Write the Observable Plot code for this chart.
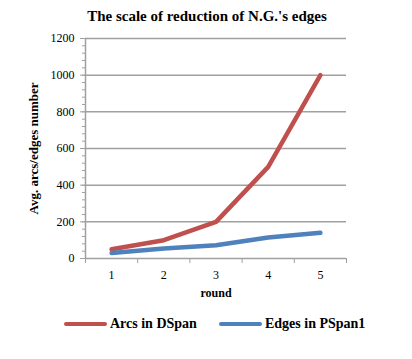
<!DOCTYPE html>
<html>
<head>
<meta charset="utf-8">
<script src="https://cdn.jsdelivr.net/npm/d3@7"></script>
<script src="https://cdn.jsdelivr.net/npm/@observablehq/plot@0.6"></script>
<style>
  body { margin: 0; background: #fff; font-family: "Liberation Serif", "Times New Roman", serif; }
  #wrap { width: 412px; height: 359px; position: relative; overflow: hidden; }
  #title { height: 32px; line-height: 32px; font-size: 15px; font-weight: bold; text-align: center; color: #000; padding-left: 2px; }
  #legend { position: relative; height: 47px; }
  .item { position: absolute; top: 4px; display: flex; align-items: center; font-size: 14px; font-weight: bold; color: #000; }
  .swatch { width: 43px; height: 4.5px; border-radius: 3px; margin-right: 3px; }
  #chart svg text { font-family: "Liberation Serif", "Times New Roman", serif !important; }
</style>
</head>
<body>
<div id="wrap">
  <div id="title">The scale of reduction of N.G.'s edges</div>
  <div id="chart"></div>
  <div id="legend"></div>
</div>
<script>
const rounds = [1, 2, 3, 4, 5];
const arcsDSpan = [50, 100, 200, 500, 1000];
const edgesPSpan1 = [30, 55, 72, 115, 140];
const seriesNames = ["Arcs in DSpan", "Edges in PSpan1"];
const seriesColors = ["#c0504d", "#4f81bd"];
const yTicks = [0, 200, 400, 600, 800, 1000, 1200];
const xLabel = "round";
const yLabel = "Avg. arcs/edges number";

const data = [];
rounds.forEach((r, i) => {
  data.push({round: r, value: arcsDSpan[i], series: seriesNames[0]});
  data.push({round: r, value: edgesPSpan1[i], series: seriesNames[1]});
});
const boundaries = [0.5, ...rounds.map(r => r + 0.5)];
const minor = d3.range(0, 1201, 40);
const serif = "Liberation Serif, Times New Roman, serif";

const chart = Plot.plot({
  width: 412,
  height: 280,
  marginTop: 6,
  marginBottom: 54,
  marginLeft: 85,
  marginRight: 66,
  style: "font-family: 'Liberation Serif', 'Times New Roman', serif; font-size: 12px; color: #000; background: #fff; overflow: visible;",
  x: {domain: [0.5, 5.5], axis: null},
  y: {domain: [0, 1200], axis: null},
  color: {domain: seriesNames, range: seriesColors},
  marks: [
    Plot.gridY(yTicks.filter(d => d > 0), {stroke: "#a0a0a0", strokeOpacity: 1, strokeWidth: 1.5}),
    Plot.ruleY([0], {stroke: "#a0a0a0", strokeWidth: 1.5}),
    Plot.ruleX([0.5], {stroke: "#a0a0a0", strokeWidth: 1.5}),
    Plot.axisY({ticks: minor, tickSize: 3, tickFormat: () => "", stroke: "#a0a0a0", label: null}),
    Plot.axisY({ticks: yTicks, tickSize: 5, tickPadding: 6, stroke: "#a0a0a0", label: null, fontSize: 12, fontFamily: serif, tickFormat: d => String(d)}),
    Plot.axisX({ticks: boundaries, tickSize: 5, tickFormat: () => "", stroke: "#a0a0a0", label: null}),
    Plot.axisX({ticks: rounds, tickSize: 0, tickPadding: 12, label: null, fontSize: 12, fontFamily: serif, tickFormat: d => String(d)}),
    Plot.line(data, {x: "round", y: "value", stroke: "series", z: "series", strokeWidth: 4.5, strokeLinecap: "round", strokeLinejoin: "round", curve: "linear"}),
    Plot.text([xLabel], {frameAnchor: "bottom", dy: 38, text: d => d, fontWeight: "bold", fontSize: 12, fontFamily: serif}),
    Plot.text([yLabel], {frameAnchor: "left", textAnchor: "middle", dx: -52, rotate: -90, text: d => d, fontWeight: "bold", fontSize: 13, fontFamily: serif})
  ]
});
document.getElementById("chart").appendChild(chart);

const legend = document.getElementById("legend");
const positions = [64, 219];
seriesNames.forEach((name, i) => {
  const item = document.createElement("div");
  item.className = "item";
  item.style.left = positions[i] + "px";
  const sw = document.createElement("div");
  sw.className = "swatch";
  sw.style.background = seriesColors[i];
  const label = document.createElement("span");
  label.textContent = name;
  item.appendChild(sw);
  item.appendChild(label);
  legend.appendChild(item);
});
</script>
</body>
</html>
